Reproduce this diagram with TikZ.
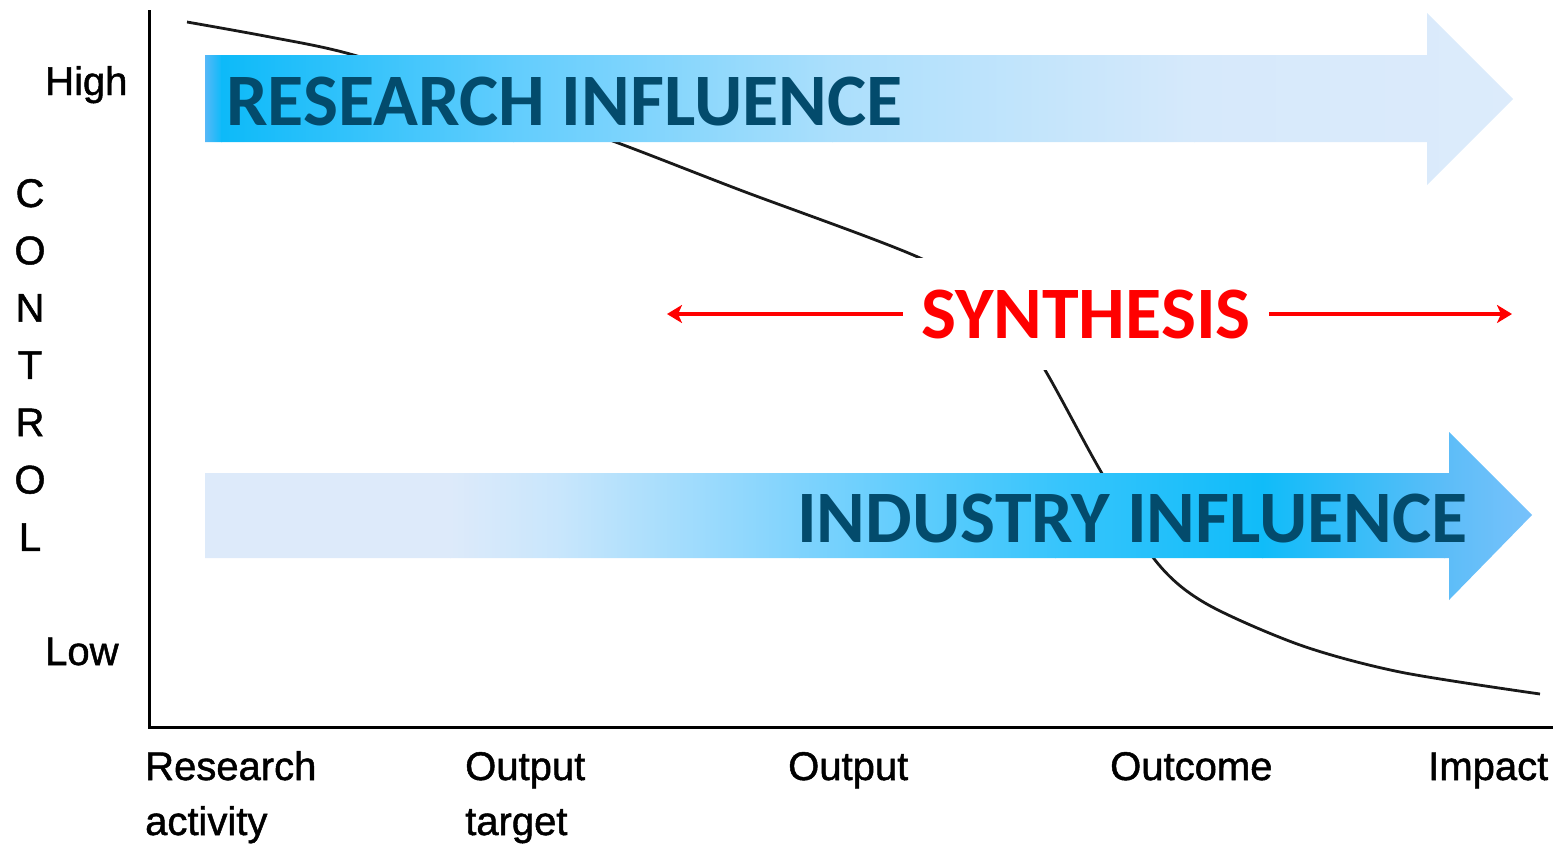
\documentclass[tikz,border=0pt]{standalone}
\usepackage{fontspec}
\setmainfont{Liberation Sans}
\newfontfamily\lblfont[FakeBold=1.2]{Liberation Sans}
\newfontfamily\carl{Carlito}
\usetikzlibrary{arrows.meta}
\definecolor{txtblue}{RGB}{3,75,108}
\definecolor{ra}{RGB}{90,184,248}
\definecolor{rb}{RGB}{13,186,249}
\definecolor{rc}{RGB}{98,205,253}
\definecolor{rd}{RGB}{171,223,252}
\definecolor{re}{RGB}{214,233,251}
\definecolor{rf}{RGB}{220,235,251}
\definecolor{ia}{RGB}{221,234,250}
\definecolor{ib}{RGB}{200,230,252}
\definecolor{ic}{RGB}{127,211,253}
\definecolor{id}{RGB}{56,197,252}
\definecolor{ie}{RGB}{16,188,249}
\definecolor{iff}{RGB}{92,189,248}
\definecolor{ig}{RGB}{122,194,251}
\tikzset{
  axislbl/.style={font=\lblfont\fontsize{40}{40}\selectfont, inner sep=0, text=black},
  bigtxt/.style={font=\carl\bfseries\fontsize{74}{74}\selectfont, inner sep=0},
  redarrow/.style={red, line width=4pt, -{Stealth[length=15pt,width=18pt,inset=4pt]}}
}
\begin{document}
\begin{tikzpicture}[x=1pt,y=-1pt]
\useasboundingbox (0,0) rectangle (1568,844);
% axes
\coordinate (ytop) at (149,10);
\coordinate (orig) at (149,727);
\coordinate (xend) at (1553,727);
\draw[line width=3pt] (ytop) -- (orig) -- (xend);
% curve
\draw[line width=2.8pt, black!90] plot[smooth, tension=0.5] coordinates {(187,22) (270,37) (350,54) (480,95) (610,140) (740,190) (920,258) (1005,310) (1045,370) (1100,470) (1155,560) (1205,603) (1300,645) (1400,672) (1540,694)};
% research arrow
\begin{scope}
\clip (205,55) -- (1427,55) -- (1427,13) -- (1513,99) -- (1427,185) -- (1427,142) -- (205,142) -- cycle;
\shade[left color=ra, right color=rb] (204,0) rectangle (222,200);
\shade[left color=rb, right color=rc] (221,0) rectangle (514,200);
\shade[left color=rc, right color=rd] (513,0) rectangle (833,200);
\shade[left color=rd, right color=re] (832,0) rectangle (1195,200);
\shade[left color=re, right color=rf] (1194,0) rectangle (1520,200);
\end{scope}
% industry arrow
\begin{scope}
\clip (205,473) -- (1449,473) -- (1449,432) -- (1532,515) -- (1449,600) -- (1449,558) -- (205,558) -- cycle;
\fill[ia] (204,420) rectangle (451,610);
\shade[left color=ia, right color=ib] (450,420) rectangle (560,610);
\shade[left color=ib, right color=ic] (559,420) rectangle (800,610);
\shade[left color=ic, right color=id] (799,420) rectangle (1056,610);
\shade[left color=id, right color=ie] (1055,420) rectangle (1263,610);
\shade[left color=ie, right color=iff] (1262,420) rectangle (1445,610);
\shade[left color=iff, right color=ig] (1444,420) rectangle (1540,610);
\end{scope}
\node[bigtxt, text=txtblue, anchor=base west] (ri) at (226,125) {RESEARCH INFLUENCE};
\node[bigtxt, text=txtblue, anchor=base west] (ii) at (797,542) {INDUSTRY INFLUENCE};
% synthesis
\node[bigtxt, text=red, fill=white, minimum width=366pt, minimum height=112pt] (syn) at (1086,314) {SYNTHESIS};
\coordinate (lend) at (667,314);
\coordinate (rend) at (1512,314);
\draw[redarrow] (syn.west) -- (lend);
\draw[redarrow] (syn.east) -- (rend);
% axis labels
\node[axislbl, anchor=base west] (high) at (45,95) {High};
\node[axislbl, anchor=base west] (low) at (45,665) {Low};
\foreach \c [count=\i from 0] in {C,O,N,T,R,O,L}
  \node[axislbl, anchor=base] (ctl\i) at (30,207+57.3*\i) {\c};
\node[axislbl, anchor=base west] (ra1) at (145,780) {Research};
\node[axislbl, anchor=base west] (ra2) at (145,835) {activity};
\node[axislbl, anchor=base west] (ot1) at (465,780) {Output};
\node[axislbl, anchor=base west] (ot2) at (465,835) {target};
\node[axislbl, anchor=base west] (op) at (788,780) {Output};
\node[axislbl, anchor=base west] (oc) at (1110,780) {Outcome};
\node[axislbl, anchor=base west] (im) at (1428,780) {Impact};
\end{tikzpicture}
\end{document}
